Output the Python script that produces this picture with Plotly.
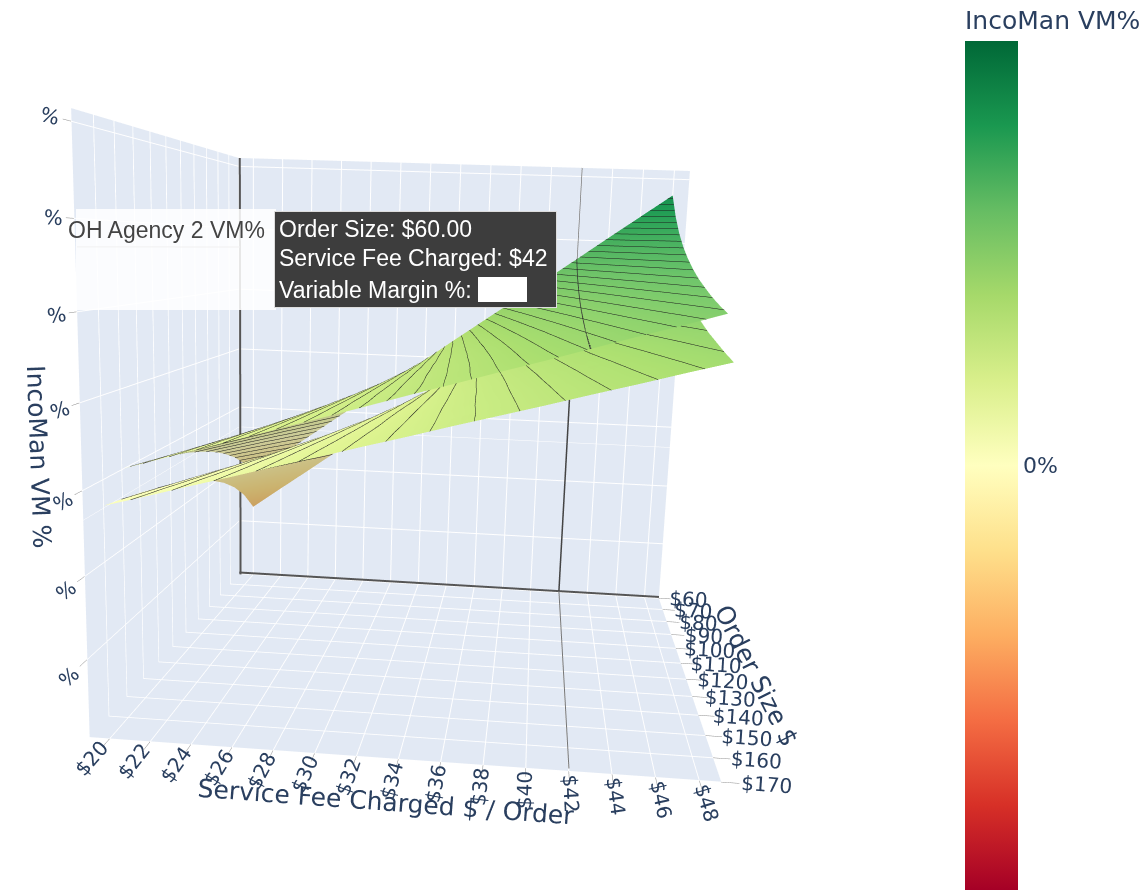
import plotly.graph_objects as go

fee = [20, 22, 24, 26, 28, 30, 32, 34, 36, 38, 40, 42, 44, 46, 48]
size_agency = [60, 70, 80, 90, 100, 110, 120, 130, 140, 150, 160]
size_incoman = [60, 70, 80, 90, 100, 110, 120, 130, 140, 150, 160, 170]
NB = "\u00a0"
fee_labels = ["$20", "$22", "$24", "$26", "$28", "$30", "$32", "$34", "$36", "$38", "$40", "$42", "$44", "$46", "$48"]
size_labels = [NB*3 + "$60", NB*3 + "$70", NB*3 + "$80", NB*3 + "$90", NB*3 + "$100", NB*3 + "$110",
               NB*3 + "$120", NB*3 + "$130", NB*3 + "$140", NB*3 + "$150", NB*3 + "$160", NB*3 + "$170"]

vm_agency = [
 [-.150,-.085,-.020,.046,.111,.176,.241,.307,.372,.437,.502,.567,.633,.698,.763],
 [-.095,-.038,.018,.075,.132,.188,.245,.301,.358,.415,.471,.528,.585,.641,.698],
 [-.054,-.003,.047,.097,.147,.197,.247,.298,.348,.398,.448,.499,.549,.599,.649],
 [-.022,.024,.069,.114,.159,.204,.250,.295,.340,.385,.430,.476,.521,.566,.611],
 [.004,.045,.087,.128,.169,.210,.251,.292,.334,.375,.416,.457,.498,.539,.581],
 [.025,.063,.101,.139,.177,.215,.253,.291,.328,.366,.404,.442,.480,.518,.556],
 [.043,.078,.113,.148,.183,.219,.254,.289,.324,.359,.394,.430,.465,.500,.535],
 [.058,.091,.123,.156,.189,.222,.255,.288,.320,.353,.386,.419,.452,.485,.518],
 [.070,.101,.132,.163,.194,.225,.256,.286,.317,.348,.379,.410,.441,.472,.502],
 [.081,.111,.140,.169,.198,.227,.256,.285,.315,.344,.373,.402,.431,.460,.489],
 [.091,.119,.146,.174,.202,.229,.257,.285,.312,.340,.367,.395,.423,.450,.478],
]
vm_incoman = [
 [-.261,-.195,-.130,-.064,.002,.068,.133,.199,.265,.330,.396,.462,.528,.593,.659],
 [-.196,-.139,-.082,-.025,.031,.088,.145,.202,.259,.315,.372,.429,.486,.543,.600],
 [-.147,-.097,-.047,.003,.054,.104,.154,.204,.254,.304,.355,.405,.455,.505,.555],
 [-.109,-.064,-.019,.026,.071,.116,.161,.206,.251,.296,.341,.386,.431,.476,.520],
 [-.079,-.038,.003,.044,.085,.125,.166,.207,.248,.289,.330,.370,.411,.452,.493],
 [-.054,-.016,.021,.059,.096,.133,.171,.208,.246,.283,.320,.358,.395,.433,.470],
 [-.033,.002,.036,.071,.105,.140,.175,.209,.244,.278,.313,.347,.382,.417,.451],
 [-.016,.017,.049,.081,.113,.145,.178,.210,.242,.274,.306,.339,.371,.403,.435],
 [-.001,.030,.060,.090,.120,.150,.180,.211,.241,.271,.301,.331,.361,.391,.421],
 [.013,.041,.069,.098,.126,.154,.183,.211,.240,.268,.296,.325,.353,.381,.410],
 [.024,.051,.078,.104,.131,.158,.185,.212,.238,.265,.292,.319,.346,.372,.399],
 [.034,.059,.085,.110,.136,.161,.187,.212,.238,.263,.288,.314,.339,.365,.390],
]
z_ticks = [-.31, -.123, .064, .25, .437, .623, .81]
z_labels = [NB*3 + "%"] * 7
fee_range = [19, 49]
size_range = [60, 170]
z_range = [-.49, .835]
cbar_ticks = [0]
cbar_labels = ["0%"]
hover_fee = 42
hover_size = 60
hover_vm = .567
hover_col_sizes = size_agency
hover_col_vm = [.567, .528, .499, .476, .457, .442, .430, .419, .410, .402, .395]

W, H = 1147, 892
PW = 967
INK = "#2a3f5f"
light = dict(ambient=.8, diffuse=.8, specular=.05, roughness=.5, fresnel=.2)

def contour(step):
    return dict(z=dict(show=True, start=-.075, end=1, size=step, color="#1c1c1c", width=2, usecolormap=False))

fig = go.Figure()
fig.add_surface(x=size_agency, y=fee, z=[list(c) for c in zip(*vm_agency)], coloraxis="coloraxis",
                contours=contour(.018), name="OH Agency 2 VM%", lighting=light)
fig.add_surface(x=size_incoman, y=fee, z=[list(c) for c in zip(*vm_incoman)], coloraxis="coloraxis",
                contours=contour(.025), name="IncoMan VM%", lighting=light)

def spike(xs, ys, zs, width=3, color="#555555"):
    fig.add_scatter3d(x=xs, y=ys, z=zs, mode="lines", line=dict(color=color, width=width),
                      hoverinfo="skip", showlegend=False)

# the guide lines sit a hair off the walls so that they do not fight with them in depth
wall_size = hover_size + .5
wall_fee = fee_range[0] + .1
floor_z = z_range[0] + .006
spike([wall_size, wall_size], fee_range, [floor_z, floor_z], 4, "#555555")
spike([wall_size, wall_size], [wall_fee, wall_fee], z_range, 4, "#555555")
spike(size_range, [hover_fee, hover_fee], [floor_z, floor_z], 2, "#777777")
spike([wall_size, wall_size], [hover_fee, hover_fee], [floor_z, hover_vm], 3, "#444444")
spike([wall_size, wall_size], [hover_fee, hover_fee], [hover_vm, z_range[1]], 1.5, "#777777")
spike(size_range, [wall_fee, wall_fee], [hover_vm, hover_vm], 2, "#999999")
spike(hover_col_sizes, [hover_fee] * len(hover_col_sizes), hover_col_vm, 3, "#333333")

axis = dict(showbackground=True, backgroundcolor="#E2E9F4", gridcolor="white", gridwidth=2,
            zerolinecolor="white", ticks="outside", ticklen=12, tickcolor="#888888",
            tickfont=dict(size=15.5, color=INK, family="DejaVu Sans"))
title_font = dict(size=25, color=INK, family="DejaVu Sans")
fig.update_layout(
    width=W, height=H, margin=dict(l=0, r=W-PW, t=0, b=0), paper_bgcolor="white", showlegend=False,
    coloraxis=dict(cmin=-.9, cmax=.9, colorscale="RdYlGn",
        colorbar=dict(thickness=53, lenmode="pixels", len=883, xref="container", yref="container",
            x=965/W, xanchor="left", y=2/H, yanchor="bottom", xpad=0, ypad=0, outlinewidth=0,
            tickmode="array", tickvals=cbar_ticks, ticktext=cbar_labels, ticks="",
            tickfont=dict(size=22, color=INK, family="DejaVu Sans"),
            title=dict(text="IncoMan VM%", side="top", font=dict(size=25, color=INK, family="DejaVu Sans")))),
    scene=dict(domain=dict(x=[0, 900/PW], y=[0, 1]), aspectmode="manual", dragmode="orbit",
        aspectratio=dict(x=.914, y=1.033, z=1.004),
        camera=dict(eye=dict(x=2.071, y=.188, z=.322), up=dict(x=0, y=-.034, z=1), center=dict(x=0, y=.030, z=-.067)),
        xaxis=dict(axis, title=dict(text="Order Size $", font=title_font), range=size_range,
                   tickvals=size_incoman, ticktext=size_labels),
        yaxis=dict(axis, title=dict(text="Service Fee Charged $ / Order", font=title_font), range=fee_range,
                   tickvals=fee, ticktext=fee_labels),
        zaxis=dict(axis, title=dict(text="IncoMan VM %", font=title_font), range=z_range,
                   tickvals=z_ticks, ticktext=z_labels)),
)

def box(px, py, w, h, bg, border=None):
    fig.add_annotation(xref="paper", yref="paper", x=px/PW, y=1-py/H, xanchor="left", yanchor="top",
                       text=" ", showarrow=False, width=w, height=h, bgcolor=bg,
                       bordercolor=border or bg, borderwidth=1 if border else 0, borderpad=0)

def label(px, py, text, color, size=23):
    fig.add_annotation(xref="paper", yref="paper", x=px/PW, y=1-py/H, xanchor="left", yanchor="middle",
                       text=text, showarrow=False, font=dict(size=size, color=color, family="Liberation Sans"))

box(76, 209, 200, 101, "rgba(255,255,255,.86)")
box(275, 211, 281, 95, "#3d3d3d", "#dddddd")
fig.add_annotation(xref="paper", yref="paper", x=566/PW, y=1-258/H, ax=-14, ay=0, text=" ", showarrow=True,
                   arrowhead=2, arrowsize=1.6, arrowwidth=8, arrowcolor="#3d3d3d", standoff=0)
box(479, 277, 49, 25, "white")
label(66, 230, "OH Agency 2 VM%", "#444444")
label(278, 229, "Order Size: $60.00", "white")
label(278, 258, "Service Fee Charged: $42", "white")
label(278, 290, "Variable Margin %:", "white")

fig.write_html("out.html", config=dict(displayModeBar=False),
               post_script="document.body.style.margin='0';document.body.style.overflow='hidden';")
